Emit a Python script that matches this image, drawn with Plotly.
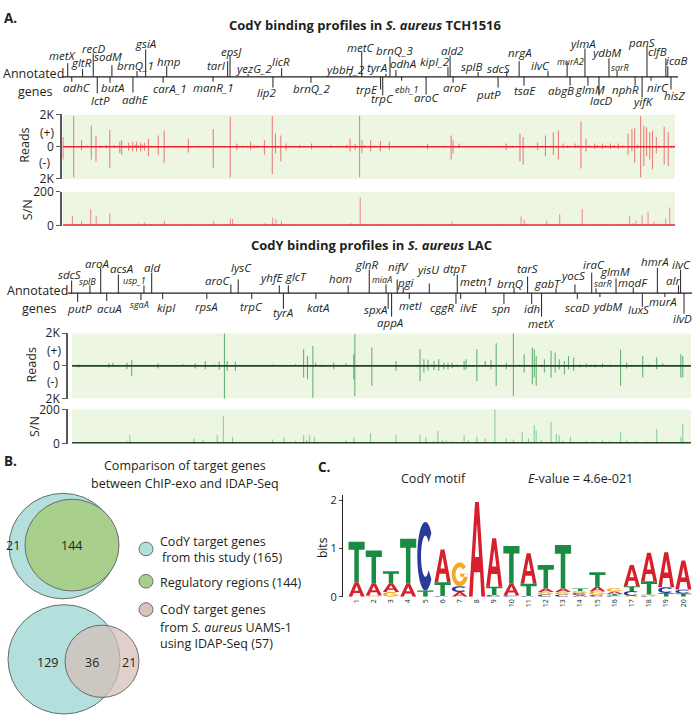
import math
import plotly.graph_objects as go

W, H = 695, 723

# ---------------- DATA ----------------
# TCH1516 ChIP-exo reads peaks: (genome position kb, + strand reads, - strand reads)
tch_reads = [
    (5, 600, 800), (55, 1900, 1900), (92, 400, 200), (138, 1300, 800), (160, 700, 900),
    (209, 100, 100), (225, 1040, 1300), (272, 300, 400), (281, 400, 500), (314, 250, 250),
    (333, 300, 300), (351, 300, 300), (370, 250, 300), (388, 250, 250), (407, 500, 600),
    (453, 700, 500), (481, 1000, 1000), (595, 500, 360), (712, 1100, 1300), (792, 1860, 1900),
    (823, 200, 200), (888, 300, 200), (953, 400, 500), (990, 1900, 1700), (1005, 800, 400),
    (1030, 700, 900), (1055, 200, 240), (1119, 100, 100), (1175, 200, 160), (1267, 100, 60),
    (1356, 500, 300), (1401, 1900, 1900), (1412, 400, 400), (1453, 400, 300), (1499, 360, 300),
    (1541, 300, 200), (1721, 160, 160), (1832, 700, 800), (1841, 400, 400), (1869, 200, 100),
    (2091, 200, 200), (2156, 800, 900), (2171, 600, 1100), (2239, 240, 200), (2276, 700, 600),
    (2313, 900, 500), (2337, 1000, 800), (2359, 200, 100), (2415, 200, 100), (2443, 1560, 1360),
    (2467, 500, 300), (2508, 200, 150), (2545, 200, 150), (2582, 200, 150), (2619, 200, 150),
    (2665, 800, 500), (2683, 1100, 300), (2696, 1160, 1000), (2724, 1900, 1900), (2739, 1300, 1200),
    (2752, 1200, 600), (2767, 900, 800), (2780, 1000, 1400), (2798, 600, 400), (2835, 1240, 1100),
    (2854, 900, 1200),
    (120, 60, 40), (180, 80, 60), (245, 100, 80), (300, 60, 60), (325, 80, 100), (345, 120, 80),
    (360, 100, 60), (378, 140, 100), (420, 60, 60), (520, 60, 40), (560, 40, 40), (640, 60, 60),
    (680, 40, 40), (740, 40, 40), (850, 60, 60), (905, 120, 100), (920, 80, 80), (1080, 60, 40),
    (1140, 40, 40), (1200, 40, 40), (1300, 60, 40), (1340, 120, 100), (1380, 160, 200),
    (1425, 100, 80), (1470, 80, 60), (1520, 60, 60), (1600, 40, 40), (1650, 40, 40), (1700, 60, 40),
    (1760, 40, 40), (1800, 60, 60), (1900, 40, 40), (1950, 40, 40), (2000, 60, 40), (2050, 40, 40),
    (2120, 60, 60), (2200, 40, 40), (2260, 80, 60), (2300, 60, 40), (2380, 80, 80), (2430, 100, 60),
    (2480, 80, 80), (2520, 100, 60), (2560, 80, 80), (2600, 100, 80), (2640, 80, 60),
    (2710, 120, 100), (2810, 80, 80), (2870, 60, 60),
]
# TCH1516 signal-to-noise peaks: (kb, S/N)
tch_sn = [
    (49, 58), (92, 29), (135, 97), (161, 54), (225, 74), (268, 12), (361, 15), (389, 19),
    (482, 29), (714, 29), (793, 43), (803, 39), (955, 15), (992, 49), (1007, 39), (1033, 29),
    (1360, 15), (1404, 165), (1837, 23), (2161, 54), (2176, 35), (2282, 29), (2343, 68),
    (2449, 97), (2672, 54), (2703, 29), (2731, 62), (2759, 82), (2787, 23), (2842, 43), (2861, 107),
    (300, 8), (330, 10), (420, 8), (600, 6), (1100, 6), (1500, 8), (1700, 6), (2050, 8),
    (2400, 10), (2500, 8), (2560, 10), (2620, 12), (2690, 16), (2810, 14),
]
# LAC ChIP-exo reads peaks
lac_reads = [
    (50, 100, 100), (190, 160, 100), (209, 200, 0), (274, 200, 200), (296, 370, 610), (418, 160, 160),
    (535, 100, 0), (591, 160, 160), (638, 300, 200), (703, 250, 250), (727, 2000, 2400), (740, 300, 300),
    (778, 250, 300), (955, 100, 0), (1057, 100, 0), (1095, 1020, 710), (1113, 610, 820),
    (1138, 1220, 1940), (1151, 200, 0), (1235, 200, 200), (1291, 160, 0), (1328, 710, 820),
    (1333, 1940, 1840), (1412, 1120, 1220), (1524, 300, 300), (1636, 1020, 920), (1654, 410, 410),
    (1673, 370, 300), (1701, 300, 250), (1723, 410, 300), (1747, 200, 200), (1766, 200, 200),
    (1785, 200, 150), (1841, 300, 250), (1850, 410, 200), (1900, 1020, 920), (1939, 300, 0),
    (1966, 370, 200), (1990, 1390, 1220), (2037, 200, 200), (2070, 2000, 1840), (2120, 710, 410),
    (2158, 1120, 1120), (2167, 1020, 710), (2176, 610, 1220), (2214, 410, 410), (2245, 920, 710),
    (2264, 820, 410), (2283, 410, 200), (2307, 300, 510), (2326, 610, 200), (2350, 510, 300),
    (2409, 160, 100), (2484, 160, 100), (2568, 980, 1220), (2596, 200, 160), (2671, 610, 710),
    (2736, 510, 200), (2764, 160, 0), (2848, 710, 710), (2857, 610, 710),
    (100, 60, 40), (330, 60, 60), (480, 40, 40), (680, 80, 60), (850, 60, 40), (1000, 60, 40),
    (1180, 80, 60), (1270, 60, 40), (1460, 60, 40), (1580, 40, 40), (1620, 60, 60), (1690, 80, 60),
    (1810, 80, 80), (1880, 60, 60), (2010, 60, 40), (2100, 80, 60), (2200, 80, 60), (2380, 100, 80),
    (2430, 80, 60), (2450, 100, 80), (2520, 80, 60), (2620, 60, 60), (2700, 80, 60), (2790, 60, 40),
]
lac_sn = [
    (274, 16), (287, 49), (405, 10), (585, 29), (628, 23), (694, 49), (722, 159), (765, 39),
    (951, 23), (1005, 35), (1057, 16), (1095, 49), (1123, 49), (1145, 39), (1291, 19), (1328, 35),
    (1406, 62), (1524, 49), (1636, 49), (1663, 39), (1719, 74), (1757, 19), (1841, 49), (1900, 39),
    (1939, 29), (1984, 200), (2037, 29), (2070, 23), (2111, 68), (2167, 107), (2176, 78),
    (2245, 126), (2270, 58), (2283, 49), (2335, 39), (2409, 16), (2484, 19), (2568, 68),
    (2596, 19), (2736, 87), (2848, 39), (2857, 117),
    (1110, 20), (1180, 12), (1700, 16), (1740, 20), (1780, 14), (1860, 20), (2140, 30),
    (2200, 20), (2300, 16), (2440, 12), (2520, 14), (2640, 16), (2690, 12),
]

# Annotated genes (name, genome position kb)
tch_up_names = ["metX", "gltR", "recD", "sodM", "brnQ_1", "gsiA", "hmp", "tarI", "epsJ", "yezG_2",
                "licR", "ybbH_2", "metC", "tyrA", "brnQ_3", "odhA", "kipI_2", "ald2", "splB", "sdcS",
                "nrgA", "ilvC", "murA2", "ylmA", "ydbM", "sarR", "panS", "clfB", "icaB"]
tch_up_pos = [27, 97, 147, 235, 353, 394, 493, 780, 791, 876, 1034, 1356, 1411, 1525, 1544, 1572,
              1817, 1827, 1959, 2094, 2152, 2288, 2378, 2462, 2575, 2613, 2754, 2843, 2852]
tch_dn_names = ["adhC", "lctP", "butA", "adhE", "carA_1", "manR_1", "lip2", "brnQ_2", "trpE", "trpC",
                "ebh_1", "aroC", "aroF", "putP", "tsaE", "abgB", "glmM", "lacD", "nphR", "yifK",
                "nirC", "hisZ"]
tch_dn_pos = [46, 166, 226, 334, 476, 711, 993, 1172, 1500, 1510, 1599, 1714, 1841, 2053, 2175,
              2392, 2476, 2528, 2698, 2731, 2773, 2867]
lac_up_names = ["sdcS", "splB", "aroA", "acsA", "usp_1", "ald", "aroC", "lysC", "yhfE", "glcT", "hom",
                "glnR", "miaA", "nifV", "pgi", "yisU", "dtpT", "metn1", "brnQ", "tarS", "gabT", "yocS",
                "iraC", "sarR", "glmM", "modF", "hmrA", "alr", "ilvC"]
lac_up_pos = [17, 102, 152, 234, 353, 389, 757, 791, 982, 1024, 1302, 1400, 1478, 1530, 1558, 1679,
              1809, 1941, 2073, 2136, 2268, 2356, 2434, 2454, 2547, 2627, 2739, 2837, 2847]
lac_dn_names = ["putP", "acuA", "sgaA", "kipI", "rpsA", "trpC", "tyrA", "katA", "spxA", "appA", "metI",
                "cggR", "ilvE", "spn", "idh", "metX", "scaD", "ydbM", "luxS", "murA", "ilvD"]
lac_dn_pos = [45, 180, 339, 440, 645, 854, 1001, 1152, 1488, 1504, 1586, 1803, 1825, 2026, 2155,
              2201, 2367, 2472, 2669, 2774, 2863]

# Venn counts
venn1_only_study, venn1_overlap = 21, 144
venn2_only_study, venn2_overlap, venn2_only_idap = 129, 36, 21

# Motif (bits per nucleotide, positions 1..20)
motif_pos = list(range(1, 21))
motif_A = [.30, .25, .18, .27, 0, .68, .10, 1.96, 1.0, .24, .63, .07, .07, .04, .10, .05, .44, .59, .72, .60]
motif_C = [0, 0, 0, 0, 1.42, .02, .12, 0, .04, .03, .02, .05, .05, .04, .04, .03, .10, .02, .12, .08]
motif_G = [0, .03, .10, 0, 0, 0, .49, 0, 0, 0, 0, .05, .05, .04, .07, .07, .02, .03, 0, 0]
motif_T = [.84, .68, .25, .93, .13, .28, 0, 0, .17, .78, .25, .49, .90, .05, .30, .03, .10, .27, .08, .07]

# ---------------- LAYOUT / STYLE (pixel offsets) ----------------
tch_up_len = [14, 8, 24, 12, 6, 28, 11, 16, 22, 3, 9, 4, 26, 3, 21, 7, 10, 22, 5, 6, 16, 6, 16, 29, 19, 6, 31, 19, 11]
tch_up_dx = [-5, -1, 0, -4, -1, 0, 2, -11, 1, 5, -1, -5, -1, -9, 5, 7, -13, 2, -6, -8, 1, -8, 3, -2, -2, 3, -5, -8, 9]
tch_up_dy = [22, 15, 29, 21, 12, 34, 16, 12, 26, 9, 16, 8, 30, 10, 27, 14, 16, 27, 11, 9, 25, 12, 16, 34, 25, 10, 35, 26, 17]
tch_dn_len = [5, 17, 6, 16, 6, 5, 11, 6, 13, 19, 4, 18, 6, 11, 9, 9, 9, 19, 9, 21, 4, 13]
tch_dn_dx = [5, 3, 3, 3, 7, 0, -6, 1, -14, 0, 5, 1, 2, -10, 1, -9, 2, 3, -10, 1, 7, 4]
tch_dn_dy = [11, 24, 11, 23, 12, 11, 16, 12, 13, 22, 13, 21, 11, 18, 14, 14, 13, 24, 13, 25, 11, 19]
lac_up_len = [13, 8, 26, 19, 8, 21, 9, 14, 8, 8, 8, 24, 9, 14, 6, 10, 19, 6, 6, 17, 5, 9, 21, 5, 15, 6, 26, 8, 24]
lac_up_dx = [-2, -2, -4, 3, -9, 0, -13, 3, -8, 8, -8, -3, -4, 1, 3, -2, -2, -9, -4, 0, -9, -2, 2, 7, -1, 0, -2, -5, 1]
lac_up_dy = [19, 12, 30, 25, 13, 26, 13, 26, 16, 17, 15, 29, 14, 27, 11, 24, 25, 12, 10, 25, 10, 18, 29, 10, 22, 11, 32, 13, 29]
lac_dn_len = [9, 8, 7, 6, 6, 6, 16, 6, 16, 24, 6, 11, 6, 11, 11, 24, 6, 4, 14, 4, 21]
lac_dn_dx = [2, 3, -1, 4, 0, 0, 0, 2, -12, -2, 2, -14, 8, -2, 0, 0, 0, 8, -4, -2, -2]
lac_dn_dy = [16, 16, 12, 15, 14, 14, 20, 15, 17, 30, 13, 15, 15, 16, 16, 31, 15, 14, 17, 9, 26]
small_genes = {"murA2", "sarR", "ebh_1", "splB_lac", "usp_1", "miaA", "sgaA"}

FONT = "Open Sans"
TXT = "#231f20"
BG = "#edf5e3"


def fx(x):
    return x / W


def fy(y):
    return 1 - y / H


fig = go.Figure()
shapes = []
ann = []


def text(x, y, s, size=12, xanchor="center", yanchor="middle", angle=0, color=TXT):
    ann.append(dict(x=fx(x), y=fy(y), xref="paper", yref="paper", text=s, showarrow=False,
                    font=dict(size=size, color=color, family=FONT), xanchor=xanchor,
                    yanchor=yanchor, textangle=angle))


def add_track(xa, ya, reads, sn, xsn, ysn, col_reads, col_sn, zero_col, x0, x1):
    pos = [r[0] for r in reads]
    plus = [r[1] for r in reads]
    minus = [-r[2] for r in reads]
    for yy in (plus, minus):
        fig.add_trace(go.Bar(x=pos, y=yy, width=5, marker=dict(color=col_reads, line=dict(width=0)),
                             xaxis=xa, yaxis=ya, showlegend=False, hoverinfo="skip"))
    fig.add_trace(go.Bar(x=[s[0] for s in sn], y=[s[1] for s in sn], width=5,
                         marker=dict(color=col_sn, line=dict(width=0)),
                         xaxis=xsn, yaxis=ysn, showlegend=False, hoverinfo="skip"))
    shapes.append(dict(type="rect", xref=xa, yref=ya, x0=x0, x1=x1, y0=-2000, y1=2000,
                       fillcolor=BG, line=dict(width=0), layer="below"))
    shapes.append(dict(type="rect", xref=xsn, yref=ysn, x0=x0, x1=x1, y0=0, y1=200,
                       fillcolor=BG, line=dict(width=0), layer="below"))
    shapes.append(dict(type="line", xref=xa, yref=ya, x0=x0, x1=x1, y0=0, y1=0,
                       line=dict(color=zero_col, width=1.6), layer="above"))
    shapes.append(dict(type="line", xref=xsn, yref=ysn, x0=x0, x1=x1, y0=0, y1=0,
                       line=dict(color=zero_col, width=3), layer="above"))


add_track("x", "y", tch_reads, tch_sn, "x2", "y2", "rgba(232,45,50,0.6)", "rgba(240,110,110,0.75)",
          "#e8262c", 5, 2886)
add_track("x3", "y3", lac_reads, lac_sn, "x4", "y4", "rgba(40,150,70,0.7)", "rgba(110,200,130,0.8)",
          "#24432c", 19, 2895)


def add_genes(xref, axis_y, x_left_px, x_right_px, up, dn, lac=False):
    shapes.append(dict(type="line", xref="paper", yref="paper", x0=fx(x_left_px), x1=fx(x_right_px),
                       y0=fy(axis_y), y1=fy(axis_y), line=dict(color="#231f20", width=1.2)))
    for sign, (names, poss, lens, dxs, dys) in ((-1, up), (1, dn)):
        for n, p, ln, dx, dy in zip(names, poss, lens, dxs, dys):
            shapes.append(dict(type="line", xref=xref, yref="paper", x0=p, x1=p,
                               y0=fy(axis_y), y1=fy(axis_y + sign * ln),
                               line=dict(color="#231f20", width=1)))
            key = n + "_lac" if (lac and n == "splB") else n
            size = 9 if key in small_genes else 11.5
            ann.append(dict(x=p, xref=xref, y=fy(axis_y + sign * dy), yref="paper", xshift=dx,
                            text="<i>%s</i>" % n, showarrow=False, xanchor="center", yanchor="middle",
                            font=dict(size=size, color=TXT, family=FONT)))


add_genes("x", 69.5, 62, 678, (tch_up_names, tch_up_pos, tch_up_len, tch_up_dx, tch_up_dy),
          (tch_dn_names, tch_dn_pos, tch_dn_len, tch_dn_dx, tch_dn_dy))
add_genes("x3", 291, 68, 692, (lac_up_names, lac_up_pos, lac_up_len, lac_up_dx, lac_up_dy),
          (lac_dn_names, lac_dn_pos, lac_dn_len, lac_dn_dx, lac_dn_dy), lac=True)

# Panel A texts
text(2, 9, "<b>A.</b>", 13.5, xanchor="left")
text(365, 16, "<b>CodY binding profiles in <i>S. aureus</i> TCH1516</b>", 13)
text(371, 242, "<b>CodY binding profiles in <i>S. aureus</i> LAC</b>", 13)
text(1, 66, "Annotated", 12.5, xanchor="left")
text(35, 84, "genes", 12.5)
text(5, 288, "Annotated", 12.5, xanchor="left")
text(39, 307, "genes", 12.5)
text(25, 140, "Reads", 12.5, angle=-90)
text(27, 205, "S/N", 12.5, angle=-90)
text(31, 365, "Reads", 12.5, angle=-90)
text(35, 428, "S/N", 12.5, angle=-90)
text(47, 126, "(+)", 12)
text(44, 157, "(-)", 12)
text(54, 350, "(+)", 12)
text(52, 381, "(-)", 12)

# Panel B
text(2, 463, "<b>B.</b>", 13.5, xanchor="left")
text(185, 468, "Comparison of target genes", 12.5)
text(185, 486, "between ChIP-exo and IDAP-Seq", 12.5)
CYAN = "#b3e0dd"
GREEN = "#a8d08c"
BEIGE = "rgba(214,190,182,0.72)"
OUT = "#6b6b6b"


def circ(cx, cy, r, fill, lw=1):
    shapes.append(dict(type="circle", xref="paper", yref="paper", x0=fx(cx - r), x1=fx(cx + r),
                       y0=fy(cy + r), y1=fy(cy - r), fillcolor=fill, line=dict(color=OUT, width=lw)))


circ(63, 550, 54, CYAN)
circ(72, 549, 47, GREEN)
circ(64, 666, 56, CYAN)
circ(102, 668, 37, BEIGE)
text(13, 549, str(venn1_only_study), 12.5)
text(71, 549, str(venn1_overlap), 12.5)
text(47, 669, str(venn2_only_study), 12.5)
text(92, 669, str(venn2_overlap), 12.5)
text(129, 669, str(venn2_only_idap), 12.5)
circ(146, 553, 7, CYAN)
circ(146, 586, 7, GREEN)
circ(146, 615, 7, "#d9c4bd")
text(158, 545, "CodY target genes", 12.5, xanchor="left")
text(160, 562, "from this study (165)", 12.5, xanchor="left")
text(158, 587, "Regulatory regions (144)", 12.5, xanchor="left")
text(158, 615, "CodY target genes", 12.5, xanchor="left")
text(158, 633, "from <i>S. aureus</i> UAMS-1", 12.5, xanchor="left")
text(158, 650, "using IDAP-Seq (57)", 12.5, xanchor="left")

# Panel C
text(316, 469, "<b>C.</b>", 13.5, xanchor="left")
text(433, 481, "CodY motif", 12.5)
text(580, 481, "<i>E</i>-value = 4.6e-021", 12.5)
text(322, 552, "bits", 12, angle=-90)


# motif glyphs
def arc_poly(a0, a1, ri=(0.27, 0.30), n=30):
    ts = [math.radians(a0 + (a1 - a0) * i / n) for i in range(n + 1)]
    outer = [(0.5 + 0.5 * math.cos(t), 0.5 + 0.5 * math.sin(t)) for t in ts]
    inner = [(0.5 + ri[0] * math.cos(t), 0.5 + ri[1] * math.sin(t)) for t in reversed(ts)]
    return outer + inner


GLYPHS = {
    "T": [[(0, 1), (1, 1), (1, 0.8), (0.64, 0.8), (0.64, 0), (0.36, 0), (0.36, 0.8), (0, 0.8)]],
    "A": [[(0, 0), (0.23, 0), (0.31, 0.26), (0.69, 0.26), (0.77, 0), (1, 0), (0.62, 1), (0.38, 1)],
          [(0.37, 0.42), (0.5, 0.78), (0.63, 0.42)]],
    "C": [arc_poly(42, 318)],
    "G": [arc_poly(40, 360), [(0.52, 0.40), (1.0, 0.40), (1.0, 0.53), (0.52, 0.53)]],
}
LCOL = {"A": "#d7202b", "C": "#283b98", "G": "#f6a821", "T": "#1b8a43"}

for i, p in enumerate(motif_pos):
    stack = sorted([("A", motif_A[i]), ("C", motif_C[i]), ("G", motif_G[i]), ("T", motif_T[i])],
                   key=lambda t: t[1])
    base = 0.0
    for L, h in stack:
        if h <= 0:
            continue
        d = ""
        for poly in GLYPHS[L]:
            pts = [(p - 0.47 + u * 0.94, base + v * h) for u, v in poly]
            d += "M" + " L".join("%.4f,%.4f" % q for q in pts) + " Z "
        shapes.append(dict(type="path", xref="x5", yref="y5", path=d, fillcolor=LCOL[L],
                           line=dict(width=0)))
        base += h

# invisible trace to activate motif axes
fig.add_trace(go.Scatter(x=[1, 20], y=[0, 0], mode="markers", marker=dict(opacity=0),
                         xaxis="x5", yaxis="y5", showlegend=False, hoverinfo="skip"))

track_x = dict(visible=False, showgrid=False, zeroline=False)
yk = dict(showgrid=False, zeroline=False, showline=True, linecolor="#58595b", linewidth=1.6,
          ticks="outside", ticklen=4, tickcolor="#58595b", tickwidth=1.3,
          tickfont=dict(size=12, color=TXT, family=FONT))

fig.update_layout(
    width=W, height=H, margin=dict(l=0, r=0, t=0, b=0),
    paper_bgcolor="white", plot_bgcolor="rgba(0,0,0,0)", barmode="overlay",
    font=dict(family=FONT, color=TXT),
    xaxis=dict(domain=[fx(62), fx(678)], range=[0, 2900], anchor="y", **track_x),
    yaxis=dict(domain=[fy(174), fy(108)], range=[-2000, 2000], anchor="x",
               tickvals=[-2000, 0, 2000], ticktext=["2K", "0", "2K"], **yk),
    xaxis2=dict(domain=[fx(62), fx(678)], range=[0, 2900], anchor="y2", **track_x),
    yaxis2=dict(domain=[fy(222), fy(187)], range=[0, 200], anchor="x2",
                tickvals=[0, 200], ticktext=["0", "200"], **yk),
    xaxis3=dict(domain=[fx(68), fx(692)], range=[0, 2900], anchor="y3", **track_x),
    yaxis3=dict(domain=[fy(399), fy(332)], range=[-2000, 2000], anchor="x3",
                tickvals=[-2000, 0, 2000], ticktext=["2K", "0", "2K"], **yk),
    xaxis4=dict(domain=[fx(68), fx(692)], range=[0, 2900], anchor="y4", **track_x),
    yaxis4=dict(domain=[fy(445), fy(410)], range=[0, 200], anchor="x4",
                tickvals=[0, 200], ticktext=["0", "200"], **yk),
    xaxis5=dict(domain=[fx(343), fx(692)], range=[0.21, 20.5], anchor="y5", showgrid=False,
                zeroline=False, showline=False, tickvals=motif_pos,
                ticktext=[str(v) for v in motif_pos], tickangle=-90, ticks="",
                tickfont=dict(size=7, color=TXT, family=FONT)),
    yaxis5=dict(domain=[fy(602), fy(498)], range=[0, 2.1], anchor="x5", showgrid=False,
                zeroline=False, showline=True, linecolor="#231f20", linewidth=1.2,
                ticks="outside", ticklen=3, tickvals=[0, 1, 2],
                tickfont=dict(size=11, color=TXT, family=FONT)),
    shapes=shapes, annotations=ann,
)

fig.write_html("out.html", config={"displayModeBar": False},
               post_script="document.body.style.margin='0';document.body.style.overflow='hidden';")
